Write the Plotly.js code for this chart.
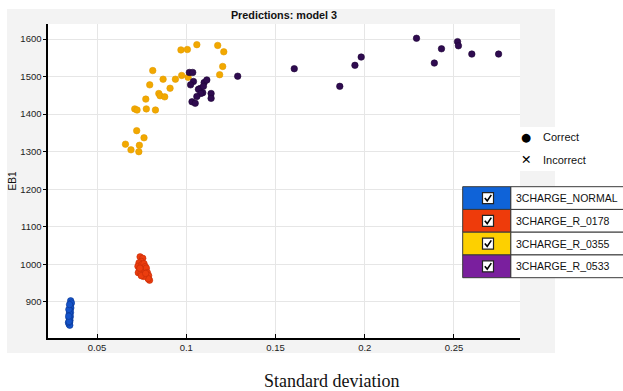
<!DOCTYPE html>
<html><head><meta charset="utf-8">
<script src="https://cdn.plot.ly/plotly-3.0.1.min.js"></script>
<style>html,body{margin:0;padding:0;background:#fff;}#chart{width:623px;height:391px;}</style>
</head><body><div id="chart"></div>
<script>
// ---------------- data ----------------
const seriesNames = ["3CHARGE_NORMAL", "3CHARGE_R_0178", "3CHARGE_R_0355", "3CHARGE_R_0533"];

const normalX = [0.0352, 0.0356, 0.0349, 0.0353, 0.0347, 0.0351, 0.0345, 0.0350, 0.0344, 0.0348,
                 0.0346, 0.0343, 0.0347, 0.0345, 0.0342, 0.0344, 0.0340, 0.0343, 0.0346, 0.0341];
const normalY = [903, 897, 890, 884, 878, 872, 866, 861, 856, 851,
                 846, 841, 838, 870, 880, 858, 845, 848, 893, 862];

const r0178X = [0.0741, 0.0756, 0.0748, 0.0735, 0.0729, 0.0738, 0.0752, 0.0763, 0.0770, 0.0758, 0.0731,
                0.0745, 0.0767, 0.0776, 0.0782, 0.0789, 0.0794, 0.0786, 0.0760, 0.0748, 0.0772, 0.0740];
const r0178Y = [1020, 1016, 1008, 1004, 995, 987, 1000, 1002, 994, 983, 978,
                975, 985, 990, 978, 970, 958, 962, 968, 970, 976, 990];

const r0355X = [0.0659, 0.0690, 0.0734, 0.0737, 0.0763, 0.0722, 0.0711, 0.0724, 0.0776, 0.0827,
                0.0773, 0.0795, 0.0812, 0.0846, 0.0853, 0.0879, 0.0870, 0.0909, 0.0939, 0.0974,
                0.0970, 0.1006, 0.1059, 0.1176, 0.1210, 0.1204, 0.1187, 0.1010];
const r0355Y = [1320, 1305, 1300, 1317, 1337, 1356, 1414, 1411, 1414, 1411,
                1440, 1478, 1516, 1455, 1449, 1446, 1493, 1469, 1493, 1503,
                1571, 1572, 1585, 1583, 1566, 1527, 1505, 1498];

const r0533X = [0.2290, 0.2390, 0.2430, 0.2520, 0.2525, 0.2600, 0.2750, 0.1860, 0.1945, 0.1980,
                0.1605, 0.1288, 0.1017, 0.1036, 0.1040, 0.1024, 0.1100, 0.1115, 0.1077, 0.1068,
                0.1092, 0.1081, 0.1139, 0.1139, 0.1059, 0.1032, 0.1050, 0.1096];
const r0533Y = [1602, 1536, 1574, 1593, 1582, 1560, 1560, 1474, 1530, 1552,
                1521, 1501, 1511, 1511, 1487, 1478, 1484, 1491, 1468, 1466,
                1457, 1455, 1455, 1442, 1447, 1433, 1429, 1474];

const xTickVals = [0.05, 0.1, 0.15, 0.2, 0.25];
const xTickText = ["0.05", "0.1", "0.15", "0.2", "0.25"];
const yTickVals = [900, 1000, 1100, 1200, 1300, 1400, 1500, 1600];
const outcomeLabels = ["Correct", "Incorrect"];

// ---------------- styles ----------------
const markerFill = ["#1553c9", "#ec3d0e", "#f2a800", "#2f0b50"];
const markerEdge = ["#0a3590", "#c42c06", "#e39c00", "#1e0536"];
const cellFill = ["#0f63d8", "#ee3b0b", "#fdd000", "#7a1f9e"];

const xs = [normalX, r0178X, r0355X, r0533X];
const ys = [normalY, r0178Y, r0355Y, r0533Y];

const traces = seriesNames.map((n, i) => ({
  type: "scatter", mode: "markers", name: n, x: xs[i], y: ys[i],
  marker: {symbol: "circle", size: 6.5, color: markerFill[i], line: {color: markerEdge[i], width: 0.6}},
  hoverinfo: "x+y+name"
}));

// plot area in pixels
const L = 48, R = 520, T = 24, B = 338;
const px = x => (x - L) / (R - L);
const py = y => (B - y) / (B - T);

const shapes = [];
// grey panel
shapes.push({type: "rect", xref: "paper", yref: "paper", layer: "below",
  x0: px(7), x1: px(555), y0: py(353), y1: py(9), fillcolor: "#f3f3f3", line: {width: 0}});
// white plot area
shapes.push({type: "rect", xref: "paper", yref: "paper", layer: "below",
  x0: 0, x1: 1, y0: 0, y1: 1, fillcolor: "#ffffff", line: {width: 0}});
// white behind outcome key
shapes.push({type: "rect", xref: "paper", yref: "paper", layer: "below",
  x0: px(520), x1: px(556), y0: py(171), y1: py(127), fillcolor: "#ffffff", line: {width: 0}});

// selection table
const rowTop = 186.7, rowH = 22.75, tL = 462.7, tM = 510.7, tR = 660;
const annotations = [];
seriesNames.forEach((n, i) => {
  const y0 = rowTop + i * rowH, y1 = y0 + rowH, yc = (y0 + y1) / 2;
  shapes.push({type: "rect", xref: "paper", yref: "paper", x0: px(tM), x1: px(tR), y0: py(y1), y1: py(y0),
    fillcolor: "#ffffff", line: {color: "#3a3a3a", width: 1}});
  shapes.push({type: "rect", xref: "paper", yref: "paper", x0: px(tL), x1: px(tM), y0: py(y1), y1: py(y0),
    fillcolor: cellFill[i], line: {color: "#3a3a3a", width: 1}});
  shapes.push({type: "rect", xref: "paper", yref: "paper", x0: px(482.5), x1: px(493.5), y0: py(yc + 5.5), y1: py(yc - 5.5),
    fillcolor: "#ffffff", line: {color: "#222", width: 1.2}});
  shapes.push({type: "path", xref: "paper", yref: "paper",
    path: `M ${px(484.8)},${py(yc)} L ${px(487.2)},${py(yc + 2.8)} L ${px(491.3)},${py(yc - 3.2)}`,
    line: {color: "#000", width: 1.6}});
  annotations.push({xref: "paper", yref: "paper", x: px(514), y: py(yc), xanchor: "left", yanchor: "middle",
    text: n, showarrow: false, font: {family: "Arial, Liberation Sans", size: 10.5, color: "#111"}});
});

// outcome key
annotations.push({xref: "paper", yref: "paper", x: px(526), y: py(136.5), xanchor: "center", yanchor: "middle",
  text: "●", showarrow: false, font: {family: "DejaVu Sans", size: 11.5, color: "#000"}});
annotations.push({xref: "paper", yref: "paper", x: px(526), y: py(159.5), xanchor: "center", yanchor: "middle",
  text: "<b>✕</b>", showarrow: false, font: {family: "DejaVu Sans", size: 12.5, color: "#000"}});
outcomeLabels.forEach((t, k) => annotations.push({xref: "paper", yref: "paper", x: px(541), y: py(136.5 + 23 * k),
  xanchor: "left", yanchor: "middle", text: t, showarrow: false,
  font: {family: "Arial, Liberation Sans", size: 11, color: "#111"}}));

// x axis caption (serif, below the panel)
annotations.push({xref: "paper", yref: "paper", x: px(331), y: py(381), xanchor: "center", yanchor: "middle",
  text: "Standard deviation", showarrow: false, font: {family: "Liberation Serif, Times New Roman", size: 18, color: "#111"}});

const tickFont = {family: "Arial, Liberation Sans", size: 9.5, color: "#222"};
const layout = {
  width: 623, height: 391,
  margin: {l: L, r: 623 - R, t: T, b: 391 - B, pad: 0},
  paper_bgcolor: "#ffffff", plot_bgcolor: "#ffffff",
  showlegend: false,
  title: {text: "<b>Predictions: model 3</b>", xref: "paper", x: 0.5, xanchor: "center",
    yref: "container", y: 1 - 15.5 / 391, yanchor: "middle",
    font: {family: "Arial, Liberation Sans", size: 10.8, color: "#111"}},
  xaxis: {range: [0.0225, 0.287], tickvals: xTickVals, ticktext: xTickText,
    ticks: "inside", ticklen: 4, tickwidth: 1, tickcolor: "#000",
    showline: true, linecolor: "#000", linewidth: 1.6, mirror: false,
    showgrid: true, gridcolor: "#e6e6e6", gridwidth: 1, zeroline: false,
    tickfont: tickFont, fixedrange: true},
  yaxis: {range: [804, 1640], tickvals: yTickVals,
    ticks: "outside", ticklen: 3, tickwidth: 1, tickcolor: "#000",
    showline: true, linecolor: "#000", linewidth: 1.6, mirror: false,
    showgrid: true, gridcolor: "#e6e6e6", gridwidth: 1, zeroline: false,
    tickfont: tickFont, fixedrange: true,
    title: {text: "EB1", standoff: 2, font: {family: "Arial, Liberation Sans", size: 10, color: "#111"}}},
  shapes: shapes,
  annotations: annotations
};

Plotly.newPlot("chart", traces, layout, {displayModeBar: false, staticPlot: true});
</script>
</body></html>
